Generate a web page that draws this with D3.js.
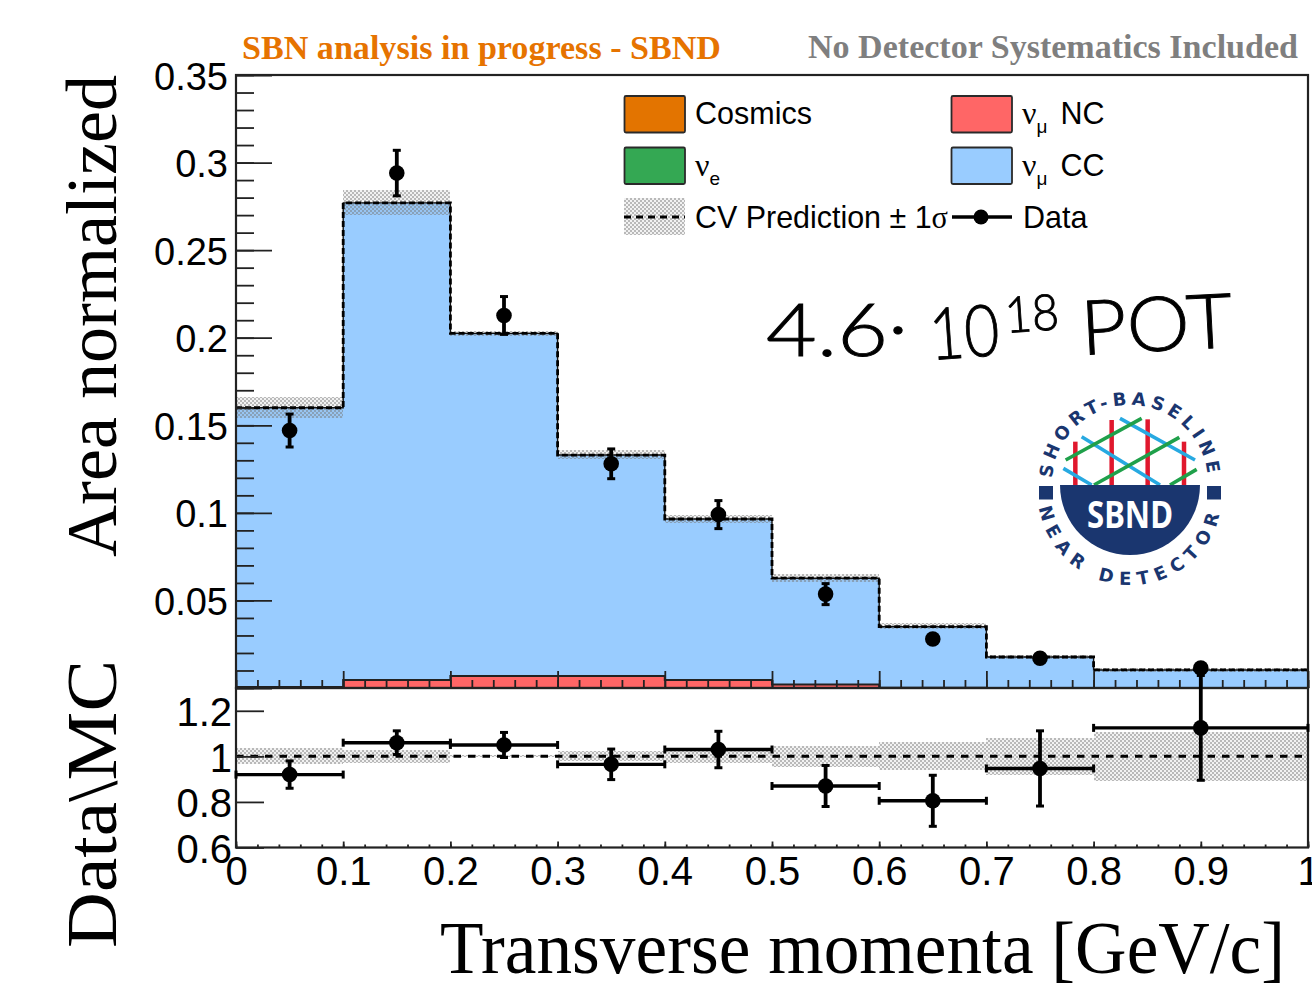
<!DOCTYPE html>
<html><head><meta charset="utf-8">
<style>html,body{margin:0;padding:0;background:#fff;overflow:hidden}svg{display:block}text{fill:#000}</style>
<script src="https://cdn.jsdelivr.net/npm/d3@7"></script></head><body>
<script>
// ---- data ----
const binEdges=[0,0.1,0.2,0.3,0.4,0.5,0.6,0.7,0.8,1.0];
const totalMC=[0.160,0.277,0.2025,0.133,0.0965,0.0627,0.035,0.0177,0.0103];
const nuMuNC=[0.0006,0.0045,0.0068,0.0068,0.0045,0.002,0.0002,0,0];
const bandUp=[0.1662,0.2845,0.2040,0.1360,0.0990,0.0650,0.0370,0.0190,0.0115];
const bandDown=[0.1540,0.2700,0.2010,0.1310,0.0940,0.0605,0.0335,0.0163,0.0092];
const pointX=[0.05,0.15,0.25,0.35,0.45,0.55,0.65,0.75,0.9];
const dataY=[0.147,0.294,0.2127,0.128,0.099,0.0536,0.028,0.017,0.0114];
const dataErr=[0.0094,0.013,0.0108,0.0085,0.008,0.006,0.002,0.002,0.002];
const ratioY=[0.92,1.06,1.05,0.965,1.03,0.87,0.805,0.947,1.125];
const ratioErr=[0.06,0.052,0.055,0.067,0.08,0.09,0.112,0.165,0.23];
const ratioBand=[0.035,0.03,0.004,0.022,0.03,0.046,0.062,0.08,0.106];
const upperMajor=[0,0.05,0.1,0.15,0.2,0.25,0.3,0.35];
const upperLabels=["","0.05","0.1","0.15","0.2","0.25","0.3","0.35"];
const upperMinor=d3.range(0,36).map(i=>i/100).filter(v=>v<=0.35);
const lowerMajor=[0.6,0.8,1,1.2];
const lowerLabels=["0.6","0.8","1","1.2"];
const xMajor=[0,0.1,0.2,0.3,0.4,0.5,0.6,0.7,0.8,0.9,1];
const xLabels=["0","0.1","0.2","0.3","0.4","0.5","0.6","0.7","0.8","0.9","1"];
const xMinor=d3.range(0,51).map(i=>i/50);
const legendLeft=[["Cosmics","#e37400"],["νe","#34a853"]];
const legendRight=[["νμ NC","#ff6666"],["νμ CC","#99ccff"]];

const W=1312,H=988,L=236,R=1308,T=75,B=688,B2=847.5;
const svg=d3.select("body").append("svg").attr("width",W).attr("height",H);
const x=d3.scaleLinear().domain([0,1]).range([L,R]);
const y=d3.scaleLinear().domain([0,0.35]).range([B,T]);
const yr=d3.scaleLinear().domain([0.6,1.3]).range([B2,B2-159.5]);
const sans="'Liberation Sans',Arial,sans-serif",serif="'Liberation Serif',serif";

const defs=svg.append("defs");
const pat=defs.append("pattern").attr("id","hatch").attr("width",4).attr("height",4).attr("patternUnits","userSpaceOnUse");
pat.append("rect").attr("width",2).attr("height",2).attr("fill","rgba(120,120,120,.52)");
pat.append("rect").attr("x",2).attr("y",2).attr("width",2).attr("height",2).attr("fill","rgba(120,120,120,.52)");
pat.append("rect").attr("x",2).attr("width",2).attr("height",2).attr("fill","rgba(150,150,150,.12)");
pat.append("rect").attr("y",2).attr("width",2).attr("height",2).attr("fill","rgba(150,150,150,.12)");

const bins=totalMC.map((v,i)=>({i,x0:binEdges[i],x1:binEdges[i+1],v}));
const stepped=(vals,ys)=>d3.line().curve(d3.curveStepAfter).x(d=>x(d[0])).y(d=>ys(d[1]))(
  binEdges.map((e,i)=>[e,vals[Math.min(i,vals.length-1)]]));

// filled histograms
const up=svg.append("g");
up.selectAll("rect.cc").data(bins).join("rect").attr("class","cc").attr("shape-rendering","crispEdges").attr("x",d=>x(d.x0)).attr("width",d=>x(d.x1)-x(d.x0))
  .attr("y",d=>y(d.v)).attr("height",d=>y(0)-y(d.v)).attr("fill","#99ccff");
up.selectAll("rect.nc").data(bins).join("rect").attr("class","nc").attr("shape-rendering","crispEdges").attr("x",d=>x(d.x0)).attr("width",d=>x(d.x1)-x(d.x0))
  .attr("y",d=>y(nuMuNC[d.i])).attr("height",d=>y(0)-y(nuMuNC[d.i])).attr("fill","#ff6666");
up.append("path").attr("d",stepped(nuMuNC,y)).attr("fill","none").attr("stroke","#222").attr("stroke-width",2);
// uncertainty band
up.selectAll("rect.band").data(bins).join("rect").attr("class","band").attr("shape-rendering","crispEdges").attr("x",d=>x(d.x0)).attr("width",d=>x(d.x1)-x(d.x0))
  .attr("y",d=>y(bandUp[d.i])).attr("height",d=>y(bandDown[d.i])-y(bandUp[d.i])).attr("fill","url(#hatch)");
// CV prediction
up.append("path").attr("d",stepped(totalMC,y)).attr("fill","none").attr("stroke","#111").attr("stroke-width",1.4);
up.append("path").attr("d",stepped(totalMC,y)).attr("fill","none").attr("stroke","#000").attr("stroke-width",2.8).attr("stroke-dasharray","6 3");

// ratio band & unit line
const lo=svg.append("g");
lo.selectAll("rect").data(bins).join("rect").attr("shape-rendering","crispEdges").attr("x",d=>x(d.x0)).attr("width",d=>x(d.x1)-x(d.x0))
  .attr("y",d=>yr(1+ratioBand[d.i])).attr("height",d=>yr(1-ratioBand[d.i])-yr(1+ratioBand[d.i])).attr("fill","url(#hatch)");
lo.append("line").attr("x1",x(0)).attr("x2",x(1)).attr("y1",yr(1)).attr("y2",yr(1)).attr("stroke","#000").attr("stroke-width",3).attr("stroke-dasharray","7.5 7");

// axes
function styleAxis(g,w){g.selectAll("path.domain").remove();g.selectAll("line").attr("stroke","#222").attr("stroke-width",w||1.8);}
function tickText(g,labels,vals,size){g.selectAll("text").text(d=>labels[vals.indexOf(d)]).attr("font-family",sans).attr("font-size",size).attr("fill","#000");}
const axU=svg.append("g").attr("transform",`translate(${L},0)`);
axU.append("g").call(d3.axisLeft(y).tickValues(upperMinor).tickSize(-18).tickFormat("")).call(styleAxis);
const axU2=axU.append("g").call(d3.axisLeft(y).tickValues(upperMajor).tickSize(-36).tickPadding(8));
axU2.call(styleAxis).call(tickText,upperLabels,upperMajor,38);
axU2.selectAll("text").attr("dy","0.37em");
const axL=svg.append("g").attr("transform",`translate(${L},0)`);
const axL2=axL.append("g").call(d3.axisLeft(yr).tickValues(lowerMajor).tickSize(-28).tickPadding(4));
axL2.call(styleAxis).call(tickText,lowerLabels,lowerMajor,40);
axL2.selectAll("text").attr("dy","0.37em");
const axXu=svg.append("g").attr("transform",`translate(0,${B})`);
axXu.append("g").call(d3.axisBottom(x).tickValues(xMinor).tickSize(-8).tickFormat("")).call(styleAxis);
axXu.append("g").call(d3.axisBottom(x).tickValues(xMajor).tickSize(-17).tickFormat("")).call(styleAxis);
const axXl=svg.append("g").attr("transform",`translate(0,${B2})`);
axXl.append("g").call(d3.axisBottom(x).tickValues(xMinor).tickSize(-3).tickFormat("")).call(styleAxis);
const axX2=axXl.append("g").call(d3.axisBottom(x).tickValues(xMajor).tickSize(-6).tickPadding(6));
axX2.call(styleAxis).call(tickText,xLabels,xMajor,40);
axX2.selectAll("text").attr("y",9).attr("dy","0.71em");

// frames
[[T,B],[B,B2]].forEach(([a,b])=>svg.append("rect").attr("x",L).attr("y",a).attr("width",R-L).attr("height",b-a)
  .attr("fill","none").attr("stroke","#222").attr("stroke-width",2.2));

// data points
const dp=svg.append("g");
function errBar(g,px,yt,yb,hx0,hx1,py,r){
  g.append("line").attr("x1",px).attr("x2",px).attr("y1",yt).attr("y2",yb).attr("stroke","#000").attr("stroke-width",3.8);
  [yt,yb].forEach(v=>g.append("line").attr("x1",px-4).attr("x2",px+4).attr("y1",v).attr("y2",v).attr("stroke","#000").attr("stroke-width",3));
  if(hx0!=null){
    g.append("line").attr("x1",hx0).attr("x2",hx1).attr("y1",py).attr("y2",py).attr("stroke","#000").attr("stroke-width",3.4);
    [hx0,hx1].forEach(v=>g.append("line").attr("x1",v).attr("x2",v).attr("y1",py-4).attr("y2",py+4).attr("stroke","#000").attr("stroke-width",3));
  }
  g.append("circle").attr("cx",px).attr("cy",py).attr("r",r).attr("fill","#000");
}
pointX.forEach((px,i)=>{
  errBar(dp,x(px),y(dataY[i]+dataErr[i]),y(dataY[i]-dataErr[i]),null,null,y(dataY[i]),7.8);
  errBar(dp,x(px),yr(ratioY[i]+ratioErr[i]),yr(ratioY[i]-ratioErr[i]),x(binEdges[i]),x(binEdges[i+1]),yr(ratioY[i]),7.8);
});

// legend
const leg=svg.append("g");
function nuLabel(px,py,name){
  const t=leg.append("text").attr("x",px).attr("y",py).attr("font-family",sans).attr("font-size",30.5);
  if(name[0]==="ν"){
    t.append("tspan").attr("font-family",serif).attr("font-size",32).text("ν");
    t.append("tspan").attr("font-size",19).attr("dy",9).text(name[1]);
    if(name.length>2) t.append("tspan").attr("dy",-9).attr("dx",13).text(name.slice(3));
  } else t.text(name);
}
function legBox(px,py,c){leg.append("rect").attr("x",px).attr("y",py).attr("width",60.5).attr("height",36.5).attr("rx",1.5).attr("fill",c).attr("stroke","#2a2a2a").attr("stroke-width",1.8);}
legendLeft.forEach((d,i)=>{const py=96+i*51.5;legBox(624.5,py,d[1]);nuLabel(695,py+28,d[0]);});
legendRight.forEach((d,i)=>{const py=96+i*51.5;legBox(951.5,py,d[1]);nuLabel(1022,py+28,d[0]);});
leg.append("rect").attr("x",624).attr("y",198).attr("width",61).attr("height",37).attr("fill","url(#hatch)");
leg.append("line").attr("x1",624).attr("x2",685).attr("y1",217).attr("y2",217).attr("stroke","#000").attr("stroke-width",3).attr("stroke-dasharray","7 5");
leg.append("text").attr("x",695).attr("y",228).attr("font-family",sans).attr("font-size",30.5).attr("textLength",253).attr("lengthAdjust","spacingAndGlyphs")
  .text("CV Prediction ± 1").append("tspan").attr("font-family",serif).text("σ");
leg.append("line").attr("x1",952).attr("x2",1012).attr("y1",217).attr("y2",217).attr("stroke","#000").attr("stroke-width",3.4);
leg.append("circle").attr("cx",981).attr("cy",217).attr("r",7.5).attr("fill","#000");
leg.append("text").attr("x",1023).attr("y",228).attr("font-family",sans).attr("font-size",30.5).text("Data");

// titles
const fit=(s,px,py,size,len,attrs)=>{const t=svg.append("text").attr("x",px).attr("y",py).attr("font-family",serif).attr("font-size",size)
  .attr("textLength",len).attr("lengthAdjust","spacingAndGlyphs").text(s);Object.entries(attrs||{}).forEach(([k,v])=>t.attr(k,v));return t;};
fit("SBN analysis in progress - SBND",242,59,33,479,{"font-weight":"bold",style:"fill:#e67300"});
fit("No Detector Systematics Included",808,58,33,490,{"font-weight":"bold",style:"fill:#7f7f7f"});
fit("Transverse momenta [GeV/c]",440,973,73,845);
fit("Area normalized",0,0,72,482,{transform:"translate(116,557) rotate(-90)"});
fit("Data\\MC",0,0,72,288,{transform:"translate(116,948) rotate(-90)"});

// annotation
const ann=svg.append("g").attr("font-family","Lato,sans-serif").attr("font-weight",300).attr("stroke","#000").attr("stroke-width",0.9);
[["4.6",766,356,72,0,122],["·",888,352,72,0,20],["10",931,360,72,-4,70],["18",1006,333,50,-4,54],["POT",1082,355,76,-3,152]].forEach(d=>{
  ann.append("text").attr("transform",`translate(${d[1]},${d[2]}) rotate(${d[4]})`).attr("font-size",d[3]).attr("textLength",d[5]).attr("lengthAdjust","spacingAndGlyphs").text(d[0]);
});

// logo
const cx=1130,cy=485,navy="#1a366f";
const logo=svg.append("g").attr("transform",`translate(${cx},${cy})`);
const zx=v=>(v-330)/3,zy=v=>(v-315)/3;
[[166,185],[275,120],[383,118],[492,185]].forEach(d=>logo.append("line").attr("x1",zx(d[0])).attr("x2",zx(d[0])).attr("y1",0).attr("y2",zy(d[1])).attr("stroke","#e0182d").attr("stroke-width",4.5));
[[130,265,215,315],[185,170,420,315],[300,115,525,240]].forEach(d=>logo.append("line").attr("x1",zx(d[0])).attr("y1",zy(d[1])).attr("x2",zx(d[2])).attr("y2",zy(d[3])).attr("stroke","#27a9e1").attr("stroke-width",3.6));
[[137,240,365,115],[222,315,478,172],[450,315,530,268]].forEach(d=>logo.append("line").attr("x1",zx(d[0])).attr("y1",zy(d[1])).attr("x2",zx(d[2])).attr("y2",zy(d[3])).attr("stroke","#1fa04a").attr("stroke-width",3.6));
logo.append("path").attr("d",d3.arc()({innerRadius:0,outerRadius:70,startAngle:Math.PI/2,endAngle:Math.PI*1.5})).attr("fill",navy);
[-91,77].forEach(v=>logo.append("rect").attr("x",v).attr("y",1).attr("width",14).attr("height",13.5).attr("fill",navy));
logo.append("text").attr("x",0).attr("y",43).attr("text-anchor","middle").attr("font-family","'Noto Sans',sans-serif").attr("font-weight",700).attr("font-size",38).attr("style","fill:#fff").attr("textLength",86).attr("lengthAdjust","spacingAndGlyphs").text("SBND");
const ld=logo.append("defs");
ld.append("path").attr("id","arcT").attr("d","M -78 -2 A 78 78 0 0 1 78 -2");
ld.append("path").attr("id","arcB").attr("d","M -92 8 A 92 92 0 0 0 92 8");
logo.append("text").attr("font-family","'DejaVu Sans',sans-serif").attr("font-weight",700).attr("font-size",18).attr("style","fill:"+navy).append("textPath").attr("href","#arcT").attr("startOffset","50%").attr("text-anchor","middle").attr("letter-spacing",4.5).text("SHORT-BASELINE");
logo.append("text").attr("font-family","'DejaVu Sans',sans-serif").attr("font-weight",700).attr("font-size",18).attr("style","fill:"+navy).append("textPath").attr("href","#arcB").attr("startOffset","50%").attr("text-anchor","middle").attr("letter-spacing",7).text("NEAR DETECTOR");
</script></body></html>
